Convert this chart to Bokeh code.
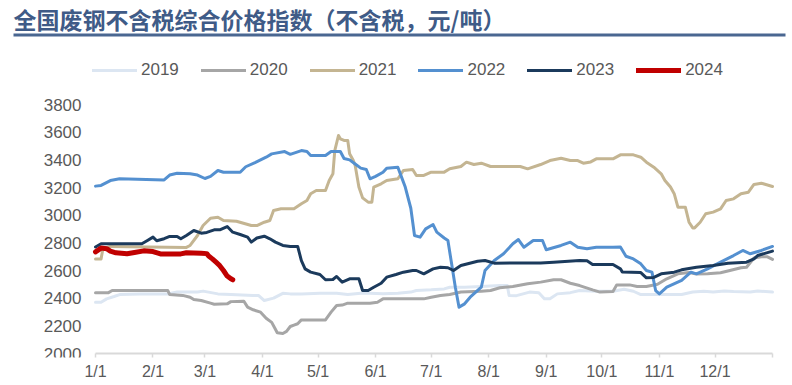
from bokeh.plotting import figure
from bokeh.models import Range1d, FixedTicker, Legend, LegendItem, Label, BoxAnnotation
from bokeh.embed import file_html
from bokeh.resources import INLINE

title_text = "全国废钢不含税综合价格指数（不含税，元/吨）"
years = ["2019", "2020", "2021", "2022", "2023", "2024"]
colors = ["#DCE6F2", "#A6A6A6", "#C4B592", "#5490D0", "#1B3A5C", "#C00000"]
month_days = [0, 31, 59, 90, 120, 151, 181, 212, 243, 273, 304, 334]
month_labels = ["1/1", "2/1", "3/1", "4/1", "5/1", "6/1", "7/1", "8/1", "9/1", "10/1", "11/1", "12/1"]
year_end = 365
y_ticks = [2000, 2200, 2400, 2600, 2800, 3000, 3200, 3400, 3600, 3800]

# day of year (0 = 1/1) and index value
d2019 = [0,3,6,10,13,24,39,44,55,58,66,73,85,88,91,96,101,105,111,121,130,136,143,148,155,163,170,173,181,188,191,199,208,218,222,223,227,234,239,242,245,249,256,261,270,279,285,290,294,305,316,322,328,333,339,344,353,357,365]
v2019 = [2371,2371,2395,2412,2426,2431,2431,2444,2444,2451,2431,2426,2419,2419,2383,2400,2435,2431,2431,2436,2436,2426,2436,2436,2432,2436,2444,2455,2460,2467,2479,2479,2485,2491,2491,2419,2418,2444,2440,2395,2395,2431,2440,2455,2450,2450,2465,2450,2426,2426,2426,2444,2450,2444,2452,2448,2444,2452,2444]

d2020 = [0,7,9,39,40,47,51,53,57,62,64,71,73,80,82,85,89,92,95,97,98,101,103,105,107,109,111,124,127,130,133,136,148,152,155,166,177,181,186,191,197,208,213,218,225,233,240,247,251,256,261,268,272,279,281,288,292,297,303,308,314,320,324,330,337,342,348,351,355,359,362,365]
v2020 = [2440,2440,2455,2455,2426,2420,2407,2390,2383,2364,2356,2359,2375,2378,2335,2316,2299,2255,2225,2175,2150,2145,2160,2195,2205,2215,2243,2243,2299,2347,2350,2364,2364,2371,2395,2395,2395,2407,2419,2426,2444,2450,2455,2475,2484,2504,2516,2533,2533,2508,2491,2460,2444,2448,2496,2496,2485,2484,2500,2540,2576,2585,2575,2576,2584,2600,2620,2624,2690,2700,2700,2680]

d2021 = [0,3,4,8,49,51,55,58,62,66,69,76,84,87,91,94,96,100,107,111,114,116,119,124,126,128,129,131,132,134,136,137,139,140,142,144,147,149,150,154,157,163,166,171,173,177,181,188,191,197,200,204,208,213,229,233,240,245,251,256,260,263,267,270,279,283,290,294,297,301,305,307,310,312,314,318,320,322,323,326,329,333,337,340,344,348,352,355,359,365]
v2021 = [2684,2684,2757,2774,2767,2781,2853,2925,2978,2985,2961,2956,2925,2925,2949,2961,3034,3046,3046,3082,3106,3155,3178,3178,3251,3299,3467,3576,3552,3540,3540,3444,3395,3359,3203,3125,3094,3094,3203,3227,3251,3263,3323,3330,3287,3287,3311,3311,3335,3352,3383,3366,3376,3352,3352,3335,3366,3395,3412,3395,3395,3376,3385,3407,3407,3436,3436,3419,3383,3347,3299,3251,3203,3155,3058,3058,2949,2908,2908,2949,3010,3022,3046,3106,3118,3155,3166,3222,3231,3207]

d2022 = [0,3,8,13,37,40,44,51,55,59,62,66,69,78,81,86,92,95,102,105,111,114,116,124,127,132,134,137,140,143,146,148,151,155,157,163,165,167,170,172,175,178,182,184,188,190,192,194,196,199,202,208,210,215,220,225,228,231,236,241,243,251,256,260,265,270,279,283,286,290,294,297,300,302,304,308,316,321,324,330,337,344,349,353,359,365]
v2022 = [3210,3215,3250,3263,3255,3290,3303,3300,3290,3265,3280,3323,3310,3310,3350,3380,3419,3443,3460,3440,3467,3460,3431,3431,3460,3460,3410,3400,3370,3340,3330,3263,3280,3310,3340,3347,3275,3203,3050,2853,2841,2901,2932,2877,2835,2817,2648,2479,2335,2359,2407,2479,2600,2672,2721,2793,2824,2768,2817,2817,2750,2781,2805,2768,2757,2768,2768,2770,2703,2684,2648,2600,2588,2455,2431,2479,2528,2588,2576,2612,2660,2708,2745,2721,2745,2774]

d2023 = [0,3,25,28,31,33,37,40,44,46,49,53,57,60,64,67,71,74,78,82,84,87,91,94,97,101,105,109,111,113,116,121,124,128,130,133,137,142,144,147,150,154,157,162,166,171,173,177,182,186,190,193,197,206,210,215,225,240,247,261,265,268,279,283,284,294,297,301,305,312,316,324,333,341,351,355,357,365]
v2023 = [2770,2793,2793,2817,2841,2815,2830,2846,2846,2829,2853,2889,2870,2875,2894,2894,2918,2877,2860,2841,2805,2835,2848,2829,2805,2781,2774,2774,2672,2612,2588,2571,2533,2535,2557,2516,2540,2540,2455,2455,2479,2508,2552,2571,2588,2600,2600,2576,2612,2624,2620,2600,2636,2667,2672,2653,2655,2655,2660,2672,2670,2643,2643,2612,2590,2585,2547,2550,2576,2588,2605,2624,2636,2653,2660,2684,2708,2740]

d2024 = [0,3,6,8,11,17,21,26,31,35,46,49,57,60,61,63,65,67,69,71,73,74]
v2024 = [2735,2762,2758,2740,2728,2721,2730,2742,2737,2720,2720,2728,2725,2722,2705,2684,2660,2635,2600,2560,2540,2533]

series = [(d2019, v2019), (d2020, v2020), (d2021, v2021), (d2022, v2022), (d2023, v2023), (d2024, v2024)]
widths = [3, 3, 3, 3, 3, 5]

# ---- layout in pixels (canvas 792 x 385) ----
W, H = 792, 385
AX_L, AX_R = 95, 772          # pixel x of 1/1 and of year end
AX_TOP, AX_BOT = 104, 353     # pixel y of top tick and of the baseline
FRAME_BOT = 357               # frame bottom (a little under the baseline)

xs = (AX_R - AX_L) / (year_end - month_days[0])
ys = (AX_BOT - AX_TOP) / (y_ticks[-1] - y_ticks[0])
x0 = month_days[0] - AX_L / xs
x1 = year_end + (W - AX_R) / xs
y0 = y_ticks[0] - (FRAME_BOT - AX_BOT) / ys
y1 = y_ticks[0] + AX_BOT / ys

p = figure(width=W, height=H, output_backend="svg", toolbar_location=None,
           x_range=Range1d(x0, x1), y_range=Range1d(y0, y1),
           min_border_left=0, min_border_right=0, min_border_top=0,
           min_border_bottom=H - FRAME_BOT)
p.outline_line_color = None
p.xgrid.visible = False
p.ygrid.visible = False
p.background_fill_color = "white"
p.border_fill_color = "white"

# baseline of the x axis, from 1/1 to year end
p.segment(x0=[month_days[0]], x1=[year_end], y0=[y_ticks[0]], y1=[y_ticks[0]],
          line_color="#D9D9D9", line_width=2)

items = []
for yr, (d, v), c, w in zip(years, series, colors, widths):
    r = p.line(d, v, line_color=c, line_width=w, line_join="round", line_cap="round")
    items.append(LegendItem(label=yr, renderers=[r]))

legend = Legend(items=items, orientation="horizontal", location=(92, FRAME_BOT - 80),
                label_text_font="Liberation Sans", label_text_font_size="17px",
                label_text_color="#595959", glyph_width=45, glyph_height=18,
                label_height=18, label_standoff=4, spacing=22, padding=0, margin=0,
                border_line_color=None, background_fill_alpha=0)
p.add_layout(legend)

# y axis, pinned at 1/1
p.yaxis.fixed_location = month_days[0]
p.yaxis.ticker = FixedTicker(ticks=y_ticks)
p.yaxis.axis_line_color = None
p.yaxis.major_tick_line_color = None
p.yaxis.minor_tick_line_color = None
p.yaxis.major_tick_out = 0
p.yaxis.major_tick_in = 0
p.yaxis.major_label_standoff = 14
p.yaxis.major_label_text_font = "Liberation Sans"
p.yaxis.major_label_text_font_size = "17px"
p.yaxis.major_label_text_color = "#595959"

# x axis
p.xaxis.ticker = FixedTicker(ticks=month_days + [year_end])
overrides = {d: l for d, l in zip(month_days, month_labels)}
overrides[year_end] = ""
p.xaxis.major_label_overrides = overrides
p.xaxis.axis_line_color = None
p.xaxis.major_tick_line_color = "#D9D9D9"
p.xaxis.major_tick_line_width = 1.5
p.xaxis.major_tick_in = FRAME_BOT - AX_BOT
p.xaxis.major_tick_out = 0
p.xaxis.minor_tick_line_color = None
p.xaxis.major_label_standoff = 5
p.xaxis.major_label_text_font = "Liberation Sans"
p.xaxis.major_label_text_font_size = "16px"
p.xaxis.major_label_text_color = "#595959"

title = Label(x=13, y=FRAME_BOT - 18, x_units="screen", y_units="screen", text=title_text,
              text_font="Noto Sans CJK SC", text_font_size="23px", text_font_style="bold",
              text_color="#3F5B87", text_baseline="middle", text_align="left")
p.add_layout(title)

underline = BoxAnnotation(left=13, right=785, bottom=FRAME_BOT - 36, top=FRAME_BOT - 33,
                          left_units="screen", right_units="screen",
                          bottom_units="screen", top_units="screen",
                          fill_color="#4A6791", fill_alpha=1, line_color=None)
p.add_layout(underline)

open("out.html", "w").write(file_html(p, INLINE))
